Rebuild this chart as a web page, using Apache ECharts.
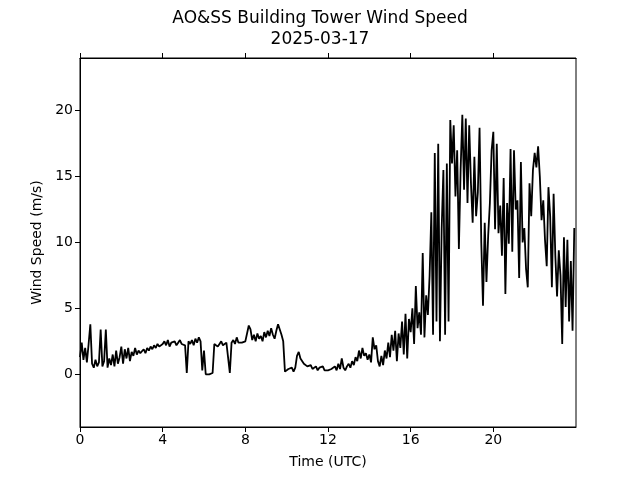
<!DOCTYPE html>
<html>
<head>
<meta charset="utf-8">
<script src="https://cdn.jsdelivr.net/npm/echarts@6/dist/echarts.min.js"></script>
<style>html,body{margin:0;padding:0;background:#fff}#c{width:640px;height:480px}</style>
</head>
<body>
<div id="c"></div>
<script>
const titleLine1 = "AO&SS Building Tower Wind Speed";
const titleLine2 = "2025-03-17";
const xName = "Time (UTC)";
const yName = "Wind Speed (m/s)";
const xTicks = [0, 4, 8, 12, 16, 20];
const yTicks = [0, 5, 10, 15, 20];
const stepMinutes = 5;
// 5-minute wind speed (m/s), one row per hour
const h00 = [1.3,2.4,1.1,2.0,0.9,2.3,3.8,0.8,0.5,1.1,0.6,0.9];
const h01 = [3.4,0.6,1.0,3.4,0.5,1.2,0.7,1.5,0.6,1.8,0.8,1.3];
const h02 = [2.1,0.8,1.9,1.2,2.0,1.0,1.7,1.4,2.0,1.5,1.8,1.6];
const h03 = [1.7,1.9,1.6,2.0,1.8,2.1,1.9,2.2,2.0,2.3,2.1,2.2];
const h04 = [2.3,2.5,2.2,2.6,2.1,2.4,2.3,2.5,2.2,2.4,2.6,2.3];
const h05 = [2.4,2.2,0.1,2.5,2.3,2.6,2.2,2.7,2.4,2.8,2.5,0.3];
const h06 = [1.8,0.0,0.0,0.0,0.0,0.1,2.3,2.4,2.1,2.3,2.5,2.2];
const h07 = [2.3,2.4,2.5,0.1,2.4,2.6,2.3,2.8,2.4,2.5,2.4,2.5];
const h08 = [2.5,2.6,3.7,3.4,2.6,3.0,2.5,3.1,2.7,2.9,2.5,3.2];
const h09 = [2.8,3.3,2.9,3.5,3.0,2.7,3.3,3.8,3.9,3.0,2.5,0.2];
const h10 = [0.2,0.4,0.3,0.5,0.2,0.5,1.4,1.7,1.2,1.3,0.8,0.7];
const h11 = [0.6,0.5,0.7,0.4,0.5,0.6,0.3,0.5,0.4,0.6,0.3,0.4];
const h12 = [0.3,0.2,0.4,0.3,0.6,0.3,0.8,0.4,1.2,0.5,0.3,0.6];
const h13 = [0.8,0.5,1.0,0.7,1.3,1.0,1.8,1.2,2.0,1.4,1.6,1.1];
const h14 = [1.5,0.9,2.8,1.9,2.2,1.0,0.6,1.4,0.7,1.8,1.2,2.4];
const h15 = [1.3,3.0,1.8,3.3,1.0,3.1,2.0,4.0,1.5,4.6,1.2,4.2];
const h16 = [3.2,5.0,2.3,6.7,3.5,4.7,3.0,9.2,2.8,6.0,4.5,7.5];
const h17 = [12.3,3.0,16.8,4.0,17.5,2.5,11.0,15.5,3.0,16.0,4.0,19.3];
const h18 = [16.0,18.9,13.5,17.0,9.5,15.5,19.7,14.0,19.4,13.0,18.9,14.5];
const h19 = [11.5,16.5,12.0,13.8,18.7,10.0,5.2,11.5,7.0,10.5,13.0,17.0];
const h20 = [18.4,11.0,17.5,10.7,12.8,9.0,14.9,6.1,13.0,9.9,17.1,9.3];
const h21 = [17.0,12.5,13.2,7.3,16.1,10.0,11.1,8.0,6.6,14.5,12.0,15.5];
const h22 = [16.8,15.7,17.3,15.0,11.7,13.2,10.2,8.2,14.2,12.0,6.6,13.7];
const h23 = [9.0,5.9,9.4,7.5,2.3,10.4,5.1,10.2,4.0,8.6,3.3,11.1];

const hours = [h00,h01,h02,h03,h04,h05,h06,h07,h08,h09,h10,h11,h12,h13,h14,h15,h16,h17,h18,h19,h20,h21,h22,h23];
const seriesData = [];
hours.forEach((row, h) => row.forEach((v, k) => seriesData.push([h + k * stepMinutes / 60, v])));

const font = "DejaVu Sans";
const titleStyle = {fontFamily: font, fontSize: 17, fontWeight: 'normal', color: '#000'};
const chart = echarts.init(document.getElementById('c'), null, {renderer: 'canvas'});
chart.setOption({
  animation: false,
  backgroundColor: '#fff',
  title: [
    {text: titleLine1, left: 'center', top: 10, padding: 0, textStyle: titleStyle},
    {text: titleLine2, left: 'center', top: 31, padding: 0, textStyle: titleStyle}
  ],
  grid: {left: 80, right: 64, top: 58, bottom: 53, show: true, borderColor: '#000', borderWidth: 1, containLabel: false},
  xAxis: [{
    type: 'value', min: 0, max: 24, position: 'bottom',
    name: xName, nameLocation: 'middle', nameGap: 28,
    nameTextStyle: {fontFamily: font, fontSize: 14, color: '#000'},
    axisLine: {show: true, onZero: false, lineStyle: {color: '#000', width: 1}},
    axisTick: {show: true, length: 5, inside: false, customValues: xTicks, lineStyle: {color: '#000'}},
    axisLabel: {show: true, customValues: xTicks, fontFamily: font, fontSize: 14, color: '#000', margin: 6},
    splitLine: {show: false}
  }, {
    type: 'value', min: 0, max: 24, position: 'top',
    axisLine: {show: true, onZero: false, lineStyle: {color: '#000', width: 1}},
    axisTick: {show: true, length: 5, inside: false, customValues: xTicks, lineStyle: {color: '#000'}},
    axisLabel: {show: false},
    splitLine: {show: false}
  }],
  yAxis: {
    type: 'value', min: -4, max: 24,
    name: yName, nameLocation: 'middle', nameGap: 32,
    nameTextStyle: {fontFamily: font, fontSize: 14, color: '#000'},
    axisLine: {show: true, onZero: false, lineStyle: {color: '#000', width: 1}},
    axisTick: {show: true, length: 5, inside: false, customValues: yTicks, lineStyle: {color: '#000'}},
    axisLabel: {show: true, customValues: yTicks, fontFamily: font, fontSize: 14, color: '#000', margin: 7},
    splitLine: {show: false}
  },
  series: [{
    type: 'line', xAxisIndex: 0, data: seriesData, showSymbol: false, symbol: 'none',
    lineStyle: {color: '#000', width: 1.8}, clip: true
  }]
});
</script>
</body>
</html>
